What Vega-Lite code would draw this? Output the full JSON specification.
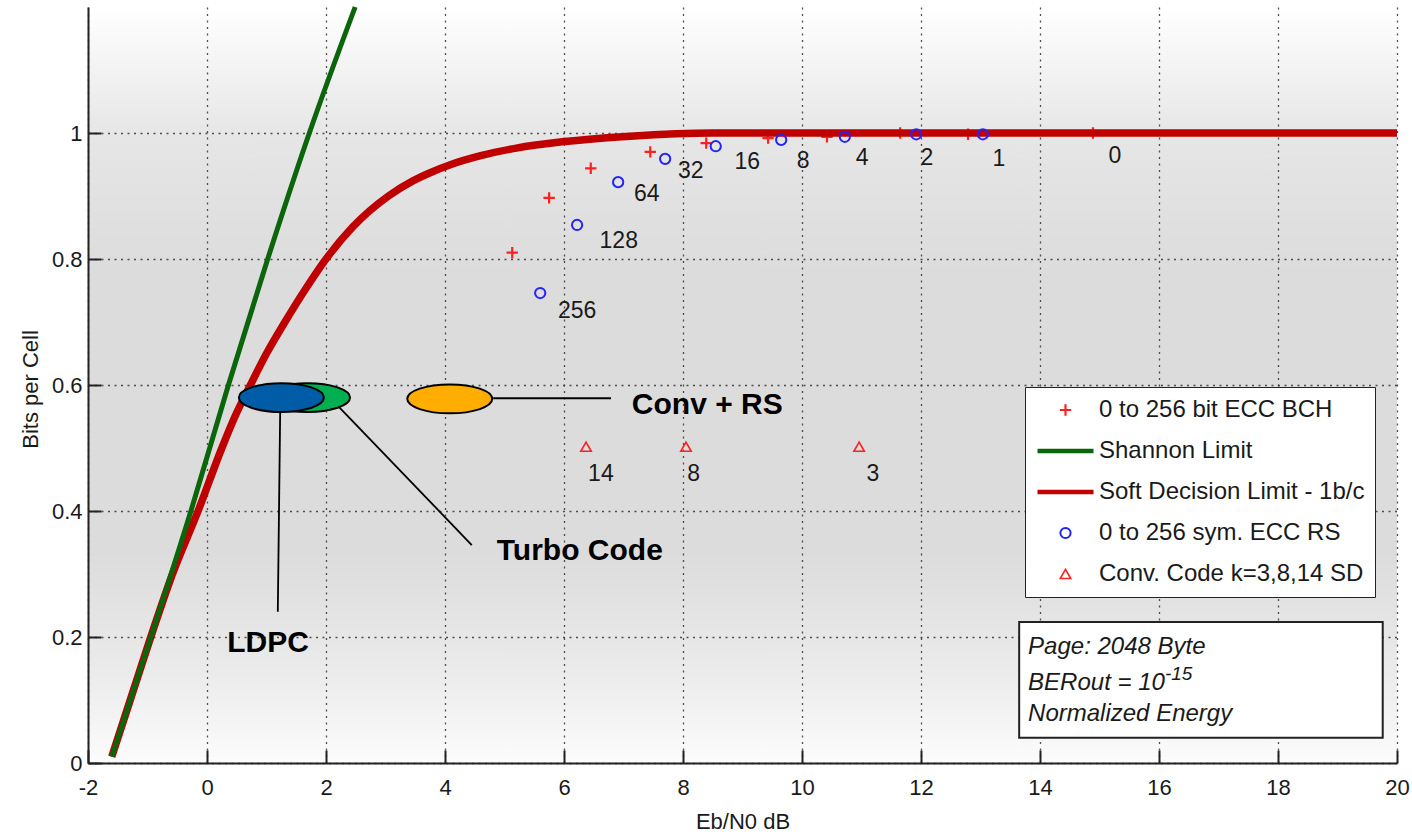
{
  "$schema": "https://vega.github.io/schema/vega-lite/v6.json",
  "width": 1309,
  "height": 756,
  "autosize": {"type": "none"},
  "padding": {"left": 88, "top": 7, "right": 15, "bottom": 69},
  "background": "#ffffff",
  "config": {
    "font": "Liberation Sans",
    "view": {
      "stroke": null,
      "fill": {
        "gradient": "linear", "x1": 0, "y1": 0, "x2": 0, "y2": 1,
        "stops": [
          {"offset": 0, "color": "#ffffff"},
          {"offset": 0.17, "color": "#e6e6e6"},
          {"offset": 0.35, "color": "#dcdcdc"},
          {"offset": 0.72, "color": "#dcdcdc"},
          {"offset": 0.88, "color": "#ebebeb"},
          {"offset": 1, "color": "#fcfcfc"}
        ]
      }
    },
    "axis": {
      "domainColor": "#222222",
      "domainWidth": 2,
      "tickColor": "#222222",
      "tickWidth": 2,
      "tickSize": -13,
      "gridColor": "#333333",
      "gridDash": [2, 4.5],
      "gridWidth": 1.3,
      "gridOpacity": 0.85,
      "labelFont": "Liberation Sans",
      "labelFontSize": 22,
      "labelColor": "#1a1a1a",
      "titleFont": "Liberation Sans",
      "titleFontSize": 22,
      "titleFontWeight": "normal",
      "titleColor": "#1a1a1a"
    },
    "legend": {
      "padding": 10,
      "fillColor": "#ffffff",
      "strokeColor": "#222222",
      "labelFont": "Liberation Sans",
      "labelFontSize": 24,
      "labelColor": "#1a1a1a",
      "labelLimit": 400,
      "clipHeight": 26,
      "rowPadding": 15,
      "labelOffset": 3,
      "symbolOffset": 0
    }
  },
  "datasets": {
    "curves": [
      {"series": "Shannon Limit", "x": -1.6, "y": 0.01},
      {"series": "Shannon Limit", "x": -0.96, "y": 0.195},
      {"series": "Shannon Limit", "x": -0.27, "y": 0.4},
      {"series": "Shannon Limit", "x": 0.36, "y": 0.6},
      {"series": "Shannon Limit", "x": 1.02, "y": 0.8},
      {"series": "Shannon Limit", "x": 1.72, "y": 1.0},
      {"series": "Shannon Limit", "x": 2.49, "y": 1.2},
      {"series": "Soft Decision Limit - 1b/c", "x": -1.6, "y": 0.01},
      {"series": "Soft Decision Limit - 1b/c", "x": -1.29, "y": 0.1},
      {"series": "Soft Decision Limit - 1b/c", "x": -0.945, "y": 0.2},
      {"series": "Soft Decision Limit - 1b/c", "x": -0.58, "y": 0.3},
      {"series": "Soft Decision Limit - 1b/c", "x": -0.15, "y": 0.4},
      {"series": "Soft Decision Limit - 1b/c", "x": 0.25, "y": 0.5},
      {"series": "Soft Decision Limit - 1b/c", "x": 0.47, "y": 0.55},
      {"series": "Soft Decision Limit - 1b/c", "x": 0.73, "y": 0.6},
      {"series": "Soft Decision Limit - 1b/c", "x": 1.0, "y": 0.65},
      {"series": "Soft Decision Limit - 1b/c", "x": 1.31, "y": 0.7},
      {"series": "Soft Decision Limit - 1b/c", "x": 1.64, "y": 0.75},
      {"series": "Soft Decision Limit - 1b/c", "x": 2.0, "y": 0.8},
      {"series": "Soft Decision Limit - 1b/c", "x": 2.45, "y": 0.851},
      {"series": "Soft Decision Limit - 1b/c", "x": 3.05, "y": 0.9},
      {"series": "Soft Decision Limit - 1b/c", "x": 3.46, "y": 0.924},
      {"series": "Soft Decision Limit - 1b/c", "x": 3.75, "y": 0.937},
      {"series": "Soft Decision Limit - 1b/c", "x": 4.1, "y": 0.95},
      {"series": "Soft Decision Limit - 1b/c", "x": 4.6, "y": 0.964},
      {"series": "Soft Decision Limit - 1b/c", "x": 5.2, "y": 0.976},
      {"series": "Soft Decision Limit - 1b/c", "x": 5.97, "y": 0.986},
      {"series": "Soft Decision Limit - 1b/c", "x": 7.11, "y": 0.995},
      {"series": "Soft Decision Limit - 1b/c", "x": 8.5, "y": 1.0},
      {"series": "Soft Decision Limit - 1b/c", "x": 20.0, "y": 1.0}
    ],
    "points": [
      {"series": "0 to 256 bit ECC BCH", "x": 5.13, "y": 0.81},
      {"series": "0 to 256 bit ECC BCH", "x": 5.75, "y": 0.897},
      {"series": "0 to 256 bit ECC BCH", "x": 6.45, "y": 0.944},
      {"series": "0 to 256 bit ECC BCH", "x": 7.45, "y": 0.97},
      {"series": "0 to 256 bit ECC BCH", "x": 8.39, "y": 0.984},
      {"series": "0 to 256 bit ECC BCH", "x": 9.43, "y": 0.992},
      {"series": "0 to 256 bit ECC BCH", "x": 10.42, "y": 0.994},
      {"series": "0 to 256 bit ECC BCH", "x": 11.65, "y": 1.0},
      {"series": "0 to 256 bit ECC BCH", "x": 12.79, "y": 0.998},
      {"series": "0 to 256 bit ECC BCH", "x": 14.89, "y": 1.0},
      {"series": "0 to 256 sym. ECC RS", "x": 5.6, "y": 0.746},
      {"series": "0 to 256 sym. ECC RS", "x": 6.22, "y": 0.854},
      {"series": "0 to 256 sym. ECC RS", "x": 6.91, "y": 0.922},
      {"series": "0 to 256 sym. ECC RS", "x": 7.7, "y": 0.959},
      {"series": "0 to 256 sym. ECC RS", "x": 8.55, "y": 0.979},
      {"series": "0 to 256 sym. ECC RS", "x": 9.65, "y": 0.989},
      {"series": "0 to 256 sym. ECC RS", "x": 10.72, "y": 0.994},
      {"series": "0 to 256 sym. ECC RS", "x": 11.92, "y": 0.998},
      {"series": "0 to 256 sym. ECC RS", "x": 13.04, "y": 0.998},
      {"series": "Conv. Code k=3,8,14 SD", "x": 6.37, "y": 0.502},
      {"series": "Conv. Code k=3,8,14 SD", "x": 8.05, "y": 0.502},
      {"series": "Conv. Code k=3,8,14 SD", "x": 10.96, "y": 0.502}
    ],
    "numbers": [
      {"x": 6.22, "y": 0.717, "text": "256"},
      {"x": 6.92, "y": 0.829, "text": "128"},
      {"x": 7.39, "y": 0.903, "text": "64"},
      {"x": 8.13, "y": 0.94, "text": "32"},
      {"x": 9.08, "y": 0.954, "text": "16"},
      {"x": 10.02, "y": 0.956, "text": "8"},
      {"x": 11.01, "y": 0.96, "text": "4"},
      {"x": 12.1, "y": 0.96, "text": "2"},
      {"x": 13.31, "y": 0.959, "text": "1"},
      {"x": 15.26, "y": 0.963, "text": "0"},
      {"x": 6.62, "y": 0.459, "text": "14"},
      {"x": 8.18, "y": 0.459, "text": "8"},
      {"x": 11.19, "y": 0.459, "text": "3"}
    ],
    "leaders": [
      {"x": 4.81, "y": 0.579, "x2": 6.79, "y2": 0.579},
      {"x": 1.23, "y": 0.559, "x2": 1.19, "y2": 0.24},
      {"x": 2.22, "y": 0.565, "x2": 4.45, "y2": 0.346}
    ],
    "ellipses": [
      {"code": "Turbo Code", "x": 1.69, "y": 0.58},
      {"code": "LDPC", "x": 1.25, "y": 0.58},
      {"code": "Conv + RS", "x": 4.08, "y": 0.578}
    ],
    "callouts": [
      {"x": 7.14, "y": 0.568, "text": "Conv + RS"},
      {"x": 4.87, "y": 0.337, "text": "Turbo Code"},
      {"x": 0.34, "y": 0.19, "text": "LDPC"}
    ],
    "infobox": [
      {"x": 13.65, "y": 0.224, "x2": 19.76, "y2": 0.04}
    ],
    "infotext": [
      {"x": 13.8, "y": 0.184, "text": "Page: 2048 Byte"},
      {"x": 13.8, "y": 0.127, "text": "BERout  = 10"},
      {"x": 13.8, "y": 0.078, "text": "Normalized Energy"}
    ],
    "superscript": [
      {"x": 16.1, "y": 0.142, "text": "-15"}
    ]
  },
  "encoding": {
    "x": {
      "field": "x", "type": "quantitative", "title": "Eb/N0 dB",
      "scale": {"domain": [-2, 20], "nice": false, "zero": false},
      "axis": {
        "values": [-2, 0, 2, 4, 6, 8, 10, 12, 14, 16, 18, 20],
        "labelExpr": "'' + datum.value",
        "labelFlush": false,
        "labelPadding": 27,
        "titleY": 58,
        "titleBaseline": "middle"
      }
    },
    "y": {
      "field": "y", "type": "quantitative", "title": "Bits per Cell",
      "scale": {"domain": [0, 1.2], "nice": false, "zero": false},
      "axis": {
        "values": [0, 0.2, 0.4, 0.6, 0.8, 1],
        "labelExpr": "'' + datum.value",
        "labelFlush": false,
        "labelPadding": 19,
        "titleX": -58,
        "titleY": 382,
        "titleBaseline": "middle"
      }
    }
  },
  "layer": [
    {
      "data": {"name": "points"},
      "transform": [{"filter": "datum.series === '0 to 256 bit ECC BCH'"}],
      "mark": {"type": "point", "filled": false, "opacity": 1},
      "encoding": {
        "color": {
          "field": "series", "type": "nominal",
          "scale": {
            "domain": ["0 to 256 bit ECC BCH", "Shannon Limit", "Soft Decision Limit - 1b/c", "0 to 256 sym. ECC RS", "Conv. Code k=3,8,14 SD"],
            "range": ["#ff1f1f", "#0b650b", "#c00000", "#2323ff", "#ff2020"]
          },
          "legend": {"title": null, "orient": "none", "legendX": 937, "legendY": 380, "encode": {"legend": {"update": {"strokeWidth": {"value": 2}}}}}
        },
        "shape": {
          "field": "series", "type": "nominal",
          "scale": {
            "domain": ["0 to 256 bit ECC BCH", "Shannon Limit", "Soft Decision Limit - 1b/c", "0 to 256 sym. ECC RS", "Conv. Code k=3,8,14 SD"],
            "range": ["M-1,0L1,0M0,-1L0,1", "stroke", "stroke", "circle", "triangle-up"]
          },
          "legend": {"title": null, "orient": "none", "legendX": 937, "legendY": 380}
        },
        "size": {
          "field": "series", "type": "nominal",
          "scale": {
            "type": "ordinal",
            "domain": ["0 to 256 bit ECC BCH", "Shannon Limit", "Soft Decision Limit - 1b/c", "0 to 256 sym. ECC RS", "Conv. Code k=3,8,14 SD"],
            "range": [130, 3136, 3136, 105, 110]
          },
          "legend": {"title": null, "orient": "none", "legendX": 937, "legendY": 380}
        },
        "strokeWidth": {
          "field": "series", "type": "nominal",
          "scale": {
            "type": "ordinal",
            "domain": ["0 to 256 bit ECC BCH", "Shannon Limit", "Soft Decision Limit - 1b/c", "0 to 256 sym. ECC RS", "Conv. Code k=3,8,14 SD"],
            "range": [2.2, 4.5, 4.5, 2, 1.6]
          },
          "legend": {"title": null, "orient": "none", "legendX": 937, "legendY": 380}
        }
      }
    },
    {
      "data": {"name": "curves"},
      "transform": [{"filter": "datum.series === 'Soft Decision Limit - 1b/c'"}],
      "mark": {"type": "line", "strokeWidth": 7.5, "interpolate": "monotone"},
      "encoding": {
        "color": {
          "field": "series", "type": "nominal",
          "scale": {
            "domain": ["0 to 256 bit ECC BCH", "Shannon Limit", "Soft Decision Limit - 1b/c", "0 to 256 sym. ECC RS", "Conv. Code k=3,8,14 SD"],
            "range": ["#ff1f1f", "#0b650b", "#c00000", "#2323ff", "#ff2020"]
          },
          "legend": {"title": null, "orient": "none", "legendX": 937, "legendY": 380}
        }
      }
    },
    {
      "data": {"name": "curves"},
      "transform": [{"filter": "datum.series === 'Shannon Limit'"}],
      "mark": {"type": "line", "strokeWidth": 5, "interpolate": "monotone"},
      "encoding": {
        "color": {
          "field": "series", "type": "nominal",
          "scale": {
            "domain": ["0 to 256 bit ECC BCH", "Shannon Limit", "Soft Decision Limit - 1b/c", "0 to 256 sym. ECC RS", "Conv. Code k=3,8,14 SD"],
            "range": ["#ff1f1f", "#0b650b", "#c00000", "#2323ff", "#ff2020"]
          },
          "legend": {"title": null, "orient": "none", "legendX": 937, "legendY": 380}
        }
      }
    },
    {
      "data": {"name": "points"},
      "transform": [{"filter": "datum.series !== '0 to 256 bit ECC BCH'"}],
      "mark": {"type": "point", "filled": false, "opacity": 1},
      "encoding": {
        "color": {
          "field": "series", "type": "nominal",
          "scale": {
            "domain": ["0 to 256 bit ECC BCH", "Shannon Limit", "Soft Decision Limit - 1b/c", "0 to 256 sym. ECC RS", "Conv. Code k=3,8,14 SD"],
            "range": ["#ff1f1f", "#0b650b", "#c00000", "#2323ff", "#ff2020"]
          },
          "legend": {"title": null, "orient": "none", "legendX": 937, "legendY": 380}
        },
        "shape": {
          "field": "series", "type": "nominal",
          "scale": {
            "domain": ["0 to 256 bit ECC BCH", "Shannon Limit", "Soft Decision Limit - 1b/c", "0 to 256 sym. ECC RS", "Conv. Code k=3,8,14 SD"],
            "range": ["M-1,0L1,0M0,-1L0,1", "stroke", "stroke", "circle", "triangle-up"]
          },
          "legend": {"title": null, "orient": "none", "legendX": 937, "legendY": 380}
        },
        "size": {
          "field": "series", "type": "nominal",
          "scale": {
            "type": "ordinal",
            "domain": ["0 to 256 bit ECC BCH", "Shannon Limit", "Soft Decision Limit - 1b/c", "0 to 256 sym. ECC RS", "Conv. Code k=3,8,14 SD"],
            "range": [130, 3136, 3136, 105, 110]
          },
          "legend": {"title": null, "orient": "none", "legendX": 937, "legendY": 380}
        },
        "strokeWidth": {
          "field": "series", "type": "nominal",
          "scale": {
            "type": "ordinal",
            "domain": ["0 to 256 bit ECC BCH", "Shannon Limit", "Soft Decision Limit - 1b/c", "0 to 256 sym. ECC RS", "Conv. Code k=3,8,14 SD"],
            "range": [2.2, 4.5, 4.5, 2, 1.6]
          },
          "legend": {"title": null, "orient": "none", "legendX": 937, "legendY": 380}
        }
      }
    },
    {
      "data": {"name": "numbers"},
      "mark": {"type": "text", "font": "Liberation Sans", "fontSize": 23, "color": "#1a1a1a", "align": "center", "baseline": "middle"},
      "encoding": {"text": {"field": "text", "type": "nominal"}}
    },
    {
      "data": {"name": "leaders"},
      "mark": {"type": "rule", "color": "#000000", "strokeWidth": 1.8},
      "encoding": {
        "x2": {"field": "x2"},
        "y2": {"field": "y2"}
      }
    },
    {
      "data": {"name": "ellipses"},
      "mark": {"type": "point", "filled": true, "opacity": 1, "fillOpacity": 1, "stroke": "#000000", "strokeWidth": 2, "size": 7225, "shape": "M-1,0A1,0.34,0,1,1,1,0A1,0.34,0,1,1,-1,0Z"},
      "encoding": {
        "fill": {
          "field": "code", "type": "nominal", "legend": null,
          "scale": {"domain": ["Turbo Code", "LDPC", "Conv + RS"], "range": ["#00b050", "#005ca6", "#ffad00"]}
        }
      }
    },
    {
      "data": {"name": "callouts"},
      "mark": {"type": "text", "font": "Liberation Sans", "fontSize": 30, "fontWeight": "bold", "color": "#000000", "align": "left", "baseline": "middle"},
      "encoding": {"text": {"field": "text", "type": "nominal"}}
    },
    {
      "data": {"name": "infobox"},
      "mark": {"type": "rect", "fill": "#ffffff", "stroke": "#222222", "strokeWidth": 2},
      "encoding": {
        "x2": {"field": "x2"},
        "y2": {"field": "y2"}
      }
    },
    {
      "data": {"name": "infotext"},
      "mark": {"type": "text", "font": "Liberation Sans", "fontSize": 24, "fontStyle": "italic", "color": "#1a1a1a", "align": "left", "baseline": "middle"},
      "encoding": {"text": {"field": "text", "type": "nominal"}}
    },
    {
      "data": {"name": "superscript"},
      "mark": {"type": "text", "font": "Liberation Sans", "fontSize": 19, "fontStyle": "italic", "color": "#1a1a1a", "align": "left", "baseline": "middle"},
      "encoding": {"text": {"field": "text", "type": "nominal"}}
    }
  ]
}
